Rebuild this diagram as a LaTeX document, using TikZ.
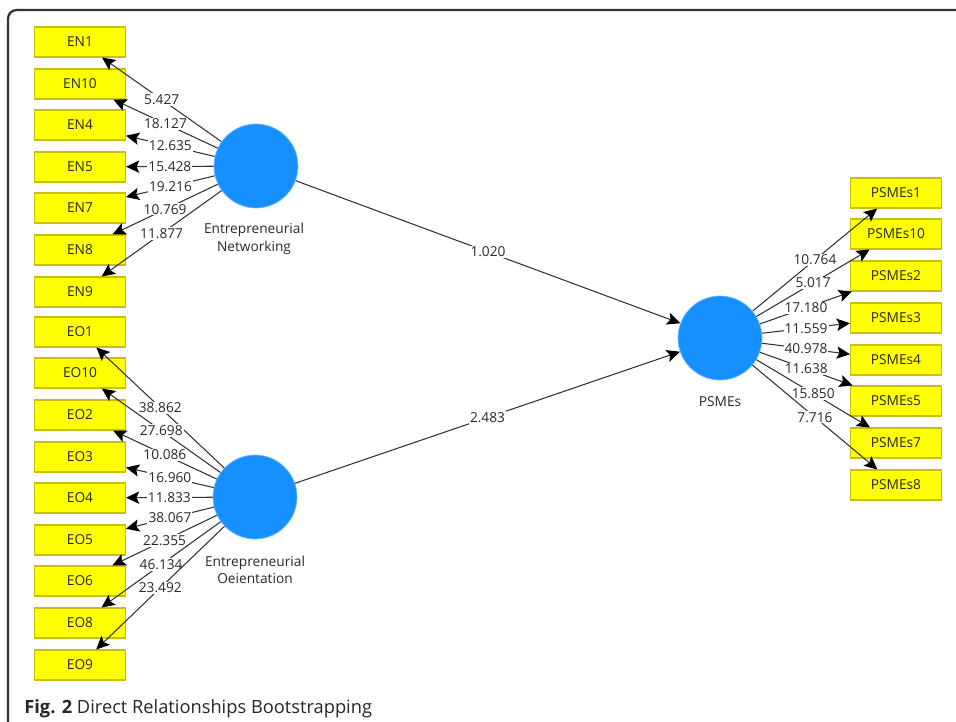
\documentclass[tikz,border=0pt]{standalone}
\usepackage{fontspec}
\setmainfont{Open Sans}
\usepackage{tikz}
\usetikzlibrary{arrows.meta,positioning}
\usepackage{xcolor}
\definecolor{plsyellow}{RGB}{255,255,0}
\definecolor{plsedge}{RGB}{200,190,20}
\definecolor{plsblue}{RGB}{22,143,255}
\definecolor{plsline}{RGB}{50,50,50}
\definecolor{plstext}{RGB}{40,40,50}

\tikzset{
  ind/.style={rectangle, draw=plsedge, fill=plsyellow, line width=0.6pt, minimum width=1.82cm, minimum height=0.6cm, inner sep=0pt, font=\fontsize{7.8}{9}\selectfont, text=black!85},
  lat/.style={circle, fill=plsblue, draw=plsblue!60, line width=0.4pt, minimum size=1.68cm, inner sep=0pt},
  ld/.style={plsline, line width=0.6pt, -{Stealth[length=7.5pt,width=7pt,inset=1.5pt,black]}},
  val/.style={midway, fill=white, inner sep=0.6pt, text=plstext, font=\fontsize{7.8}{9}\selectfont},
  latname/.style={align=center, text=plstext, font=\fontsize{7.8}{10}\selectfont}
}

\begin{document}
\begin{tikzpicture}[x=0.02cm, y=-0.02cm]
	\useasboundingbox (0,0) rectangle (956,722);
	\clip (0,0) rectangle (956,722);
	
	% frame of the figure
	\draw[line width=1.3pt, black!80, rounded corners=5pt] (8,760) -- (8,10) -- (990,10);
	
	% latent variables
	\node[lat] (EN) at (256,166) {};
	\node[lat] (EO) at (255,497) {};
	\node[lat] (PS) at (720,338) {};
	\node[latname] at (254,239) {Entrepreneurial\\Networking};
	\node[latname] at (255,570) {Entrepreneurial\\Oeientation};
	\node[latname] at (720,402) {PSMEs};
	
	% indicators of networking
	\node[ind] (EN1) at (80,42) {EN1};
	\node[ind] (EN10) at (80,84) {EN10};
	\node[ind] (EN4) at (80,125) {EN4};
	\node[ind] (EN5) at (80,167) {EN5};
	\node[ind] (EN7) at (80,208) {EN7};
	\node[ind] (EN8) at (80,250) {EN8};
	\node[ind] (EN9) at (80,292) {EN9};
	
	% indicators of orientation
	\node[ind] (EO1) at (80,332) {EO1};
	\node[ind] (EO10) at (80,373) {EO10};
	\node[ind] (EO2) at (80,415) {EO2};
	\node[ind] (EO3) at (80,457) {EO3};
	\node[ind] (EO4) at (80,498) {EO4};
	\node[ind] (EO5) at (80,540) {EO5};
	\node[ind] (EO6) at (80,581) {EO6};
	\node[ind] (EO8) at (80,623) {EO8};
	\node[ind] (EO9) at (80,665) {EO9};
	
	% indicators of PSMEs
	\node[ind] (PS1) at (896,193) {PSMEs1};
	\node[ind] (PS10) at (896,234) {PSMEs10};
	\node[ind] (PS2) at (896,276) {PSMEs2};
	\node[ind] (PS3) at (896,318) {PSMEs3};
	\node[ind] (PS4) at (896,360) {PSMEs4};
	\node[ind] (PS5) at (896,401) {PSMEs5};
	\node[ind] (PS7) at (896,443) {PSMEs7};
	\node[ind] (PS8) at (896,485) {PSMEs8};
	
	% outer loadings
	\draw[ld] (EN) -- node[val] {5.427} (EN1);
	\draw[ld] (EN) -- node[val] {18.127} (EN10);
	\draw[ld] (EN) -- node[val] {12.635} (EN4);
	\draw[ld] (EN) -- node[val] {15.428} (EN5);
	\draw[ld] (EN) -- node[val] {19.216} (EN7);
	\draw[ld] (EN) -- node[val] {10.769} (EN8);
	\draw[ld] (EN) -- node[val] {11.877} (EN9);
	
	\draw[ld] (EO) -- node[val] {38.862} (EO1);
	\draw[ld] (EO) -- node[val] {27.698} (EO10);
	\draw[ld] (EO) -- node[val] {10.086} (EO2);
	\draw[ld] (EO) -- node[val] {16.960} (EO3);
	\draw[ld] (EO) -- node[val] {11.833} (EO4);
	\draw[ld] (EO) -- node[val] {38.067} (EO5);
	\draw[ld] (EO) -- node[val] {22.355} (EO6);
	\draw[ld] (EO) -- node[val] {46.134} (EO8);
	\draw[ld] (EO) -- node[val] {23.492} (EO9);
	
	\draw[ld] (PS) -- node[val] {10.764} (PS1);
	\draw[ld] (PS) -- node[val] {5.017} (PS10);
	\draw[ld] (PS) -- node[val] {17.180} (PS2);
	\draw[ld] (PS) -- node[val] {11.559} (PS3);
	\draw[ld] (PS) -- node[val] {40.978} (PS4);
	\draw[ld] (PS) -- node[val] {11.638} (PS5);
	\draw[ld] (PS) -- node[val] {15.850} (PS7);
	\draw[ld] (PS) -- node[val] {7.716} (PS8);
	
	% inner paths
	\draw[ld] (EN) -- node[val] {1.020} (PS);
	\draw[ld] (EO) -- node[val] {2.483} (PS);
	
	% caption
	\node[anchor=base west, inner sep=0pt, font=\fontsize{10.4}{12}\selectfont, text=black!85] (cap) at (24,713) {\textbf{Fig. 2} Direct Relationships Bootstrapping};
\end{tikzpicture}
\end{document}
